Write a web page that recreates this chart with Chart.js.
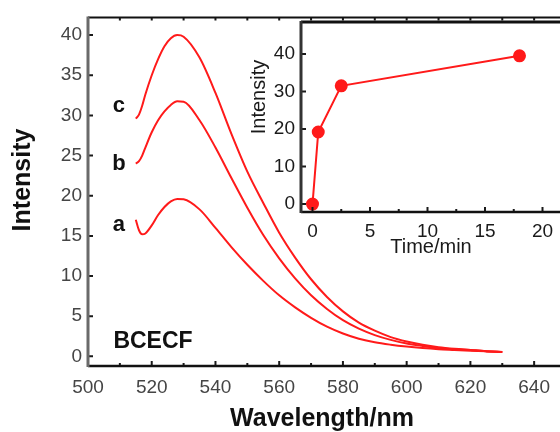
<!DOCTYPE html>
<html>
<head>
<meta charset="utf-8">
<script src="https://cdn.jsdelivr.net/npm/chart.js@4.4.1/dist/chart.umd.min.js"></script>
<style>
html, body { margin: 0; padding: 0; background: #fff; overflow: hidden; }
#wrap { position: relative; width: 560px; height: 432px; overflow: hidden; }
canvas { position: absolute; left: 0; top: 0; }
</style>
</head>
<body>
<div id="wrap">
  <canvas id="main" width="600" height="432"></canvas>
  <canvas id="inset" width="600" height="432"></canvas>
</div>
<script>
// emission spectra (main plot)
const wavelength = [515, 516, 517, 518, 520, 522, 524, 526, 528, 530, 535, 540, 545, 550, 555,
                    560, 565, 570, 575, 580, 585, 590, 595, 600, 605, 610, 615, 620, 625, 630];
const curveA = [17.0, 15.7, 15.2, 15.3, 16.3, 17.6, 18.6, 19.3, 19.6, 19.55, 18.3, 16.0, 13.6, 11.4, 9.4,
                7.6, 6.1, 4.8, 3.7, 2.85, 2.2, 1.75, 1.45, 1.22, 1.04, 0.9, 0.8, 0.7, 0.62, 0.55];
const curveB = [24.0, 24.3, 25.0, 26.0, 27.9, 29.4, 30.5, 31.3, 31.75, 31.7, 29.4, 26.0, 22.2, 18.5, 15.1,
                12.2, 9.7, 7.6, 5.9, 4.5, 3.45, 2.65, 2.05, 1.6, 1.3, 1.05, 0.9, 0.78, 0.65, 0.55];
const curveC = [29.6, 30.1, 31.2, 32.6, 35.0, 37.0, 38.6, 39.6, 40.0, 39.8, 37.2, 32.8, 27.7, 23.0, 19.1,
                15.4, 12.3, 9.6, 7.4, 5.6, 4.2, 3.2, 2.4, 1.85, 1.45, 1.15, 0.95, 0.8, 0.65, 0.55];
const wlTicks = [500, 520, 540, 560, 580, 600, 620, 640];
const intTicks = [0, 5, 10, 15, 20, 25, 30, 35, 40];

// intensity vs time (inset)
const timeMin = [0, 0.5, 2.5, 18];
const peakInt = [0, 19.2, 31.5, 39.5];
const timeTicks = [0, 5, 10, 15, 20];
const peakTicks = [0, 10, 20, 30, 40];

const FONT = "'Liberation Sans', Arial, sans-serif";

function fixTicks(values) {
  return function(scale) { scale.ticks = values.map(v => ({ value: v })); };
}

// axis lines + inward tick marks
function framePlugin(o) {
  return {
    id: 'frame',
    afterDraw(chart) {
      const { ctx, chartArea: a, scales: { x, y } } = chart;
      ctx.save();
      ctx.strokeStyle = '#1a1a1a';
      ctx.lineWidth = 2;
      ctx.beginPath();
      for (let v = x.min + o.xStart; v <= x.max; v += o.xMinor) {
        const px = x.getPixelForValue(v);
        const r = v / o.xMajor;
        const len = Math.abs(r - Math.round(r)) < 1e-6 ? 5 : 3;
        ctx.moveTo(px, a.bottom); ctx.lineTo(px, a.bottom - len);
        if (o.topTicks) { ctx.moveTo(px, a.top); ctx.lineTo(px, a.top + 3); }
      }
      for (const v of o.yTicks) {
        const py = y.getPixelForValue(v);
        ctx.moveTo(a.left, py); ctx.lineTo(a.left + 5, py);
      }
      ctx.stroke();
      // top
      ctx.lineWidth = o.topWidth;
      ctx.strokeStyle = '#111';
      ctx.beginPath(); ctx.moveTo(a.left, a.top); ctx.lineTo(chart.width, a.top); ctx.stroke();
      // bottom
      ctx.lineWidth = 2.5;
      ctx.beginPath(); ctx.moveTo(a.left, a.bottom); ctx.lineTo(chart.width, a.bottom); ctx.stroke();
      // left
      ctx.strokeStyle = o.leftColor;
      ctx.lineWidth = 3;
      ctx.beginPath(); ctx.moveTo(a.left, a.top - 1); ctx.lineTo(a.left, a.bottom + 1); ctx.stroke();
      ctx.restore();
    }
  };
}

const mainLabels = {
  id: 'mainLabels',
  afterDraw(chart) {
    const { ctx, scales: { x, y } } = chart;
    ctx.save();
    ctx.fillStyle = '#111';
    ctx.textAlign = 'center';
    ctx.textBaseline = 'middle';
    ctx.font = 'bold 22px ' + FONT;
    [['c', 509.7, 31.2], ['b', 509.7, 24.0], ['a', 509.7, 16.3]].forEach(([t, vx, vy]) => {
      ctx.fillText(t, x.getPixelForValue(vx), y.getPixelForValue(vy));
    });
    ctx.font = 'bold 23px ' + FONT;
    ctx.fillText('BCECF', x.getPixelForValue(520.4), y.getPixelForValue(1.8));
    ctx.font = 'bold 25px ' + FONT;
    ctx.fillText('Wavelength/nm', 322, 419);
    ctx.translate(23, 180);
    ctx.rotate(-Math.PI / 2);
    ctx.fillText('Intensity', 0, 0);
    ctx.restore();
  }
};

const insetLabels = {
  id: 'insetLabels',
  afterDraw(chart) {
    const { ctx } = chart;
    ctx.save();
    ctx.fillStyle = '#1a1a1a';
    ctx.textAlign = 'center';
    ctx.font = '20px ' + FONT;
    ctx.textBaseline = 'alphabetic';
    ctx.fillText('Time/min', 431, 253);
    ctx.textBaseline = 'middle';
    ctx.translate(259, 97);
    ctx.rotate(-Math.PI / 2);
    ctx.fillText('Intensity', 0, 0);
    ctx.restore();
  }
};

const line = (data) => ({
  data: data,
  borderColor: '#ff1a1a',
  borderWidth: 2,
  pointRadius: 0,
  fill: false,
  cubicInterpolationMode: 'monotone'
});

new Chart(document.getElementById('main'), {
  type: 'line',
  data: {
    datasets: [
      line(wavelength.map((w, i) => ({ x: w, y: curveA[i] }))),
      line(wavelength.map((w, i) => ({ x: w, y: curveB[i] }))),
      line(wavelength.map((w, i) => ({ x: w, y: curveC[i] })))
    ]
  },
  options: {
    responsive: false,
    animation: false,
    layout: { padding: { top: 15, right: 34, left: 0, bottom: 0 } },
    plugins: { legend: { display: false }, tooltip: { enabled: false } },
    scales: {
      x: {
        type: 'linear', min: 500, max: 650,
        afterBuildTicks: fixTicks(wlTicks),
        afterFit: s => { s.height = 66; },
        grid: { display: false, drawTicks: false },
        border: { display: false },
        ticks: { padding: 10, color: '#454545', font: { family: FONT, size: 19 } }
      },
      y: {
        min: -1.2, max: 42.2,
        afterBuildTicks: fixTicks(intTicks),
        afterFit: s => { s.width = 88; },
        grid: { display: false, drawTicks: false },
        border: { display: false },
        ticks: { padding: 6, color: '#454545', font: { family: FONT, size: 19 } }
      }
    }
  },
  plugins: [framePlugin({ xStart: 0, xMinor: 10, xMajor: 20, yTicks: intTicks, topTicks: true, topWidth: 2, leftColor: '#6a6a6a' }), mainLabels]
});

new Chart(document.getElementById('inset'), {
  type: 'line',
  data: {
    datasets: [
      {
        data: timeMin.map((t, i) => ({ x: t, y: peakInt[i] })),
        borderColor: '#ff1a1a',
        borderWidth: 2,
        pointRadius: 5.5,
        pointBackgroundColor: '#ff1a1a',
        pointBorderColor: '#ff1a1a',
        tension: 0
      }
    ]
  },
  options: {
    responsive: false,
    animation: false,
    layout: { padding: { top: 22, right: 34.5, left: 0, bottom: 0 } },
    plugins: { legend: { display: false }, tooltip: { enabled: false } },
    scales: {
      x: {
        type: 'linear', min: -1, max: 22,
        afterBuildTicks: fixTicks(timeTicks),
        afterFit: s => { s.height = 220; },
        grid: { display: false, drawTicks: false },
        border: { display: false },
        ticks: { padding: 8, color: '#1a1a1a', font: { family: FONT, size: 19 } }
      },
      y: {
        min: -2.1, max: 48.5,
        afterBuildTicks: fixTicks(peakTicks),
        afterFit: s => { s.width = 301; },
        grid: { display: false, drawTicks: false },
        border: { display: false },
        ticks: { padding: 6, color: '#1a1a1a', font: { family: FONT, size: 19 } }
      }
    }
  },
  plugins: [framePlugin({ xStart: 1, xMinor: 2.5, xMajor: 5, yTicks: peakTicks, topTicks: false, topWidth: 3, leftColor: '#333' }), insetLabels]
});
</script>
</body>
</html>
